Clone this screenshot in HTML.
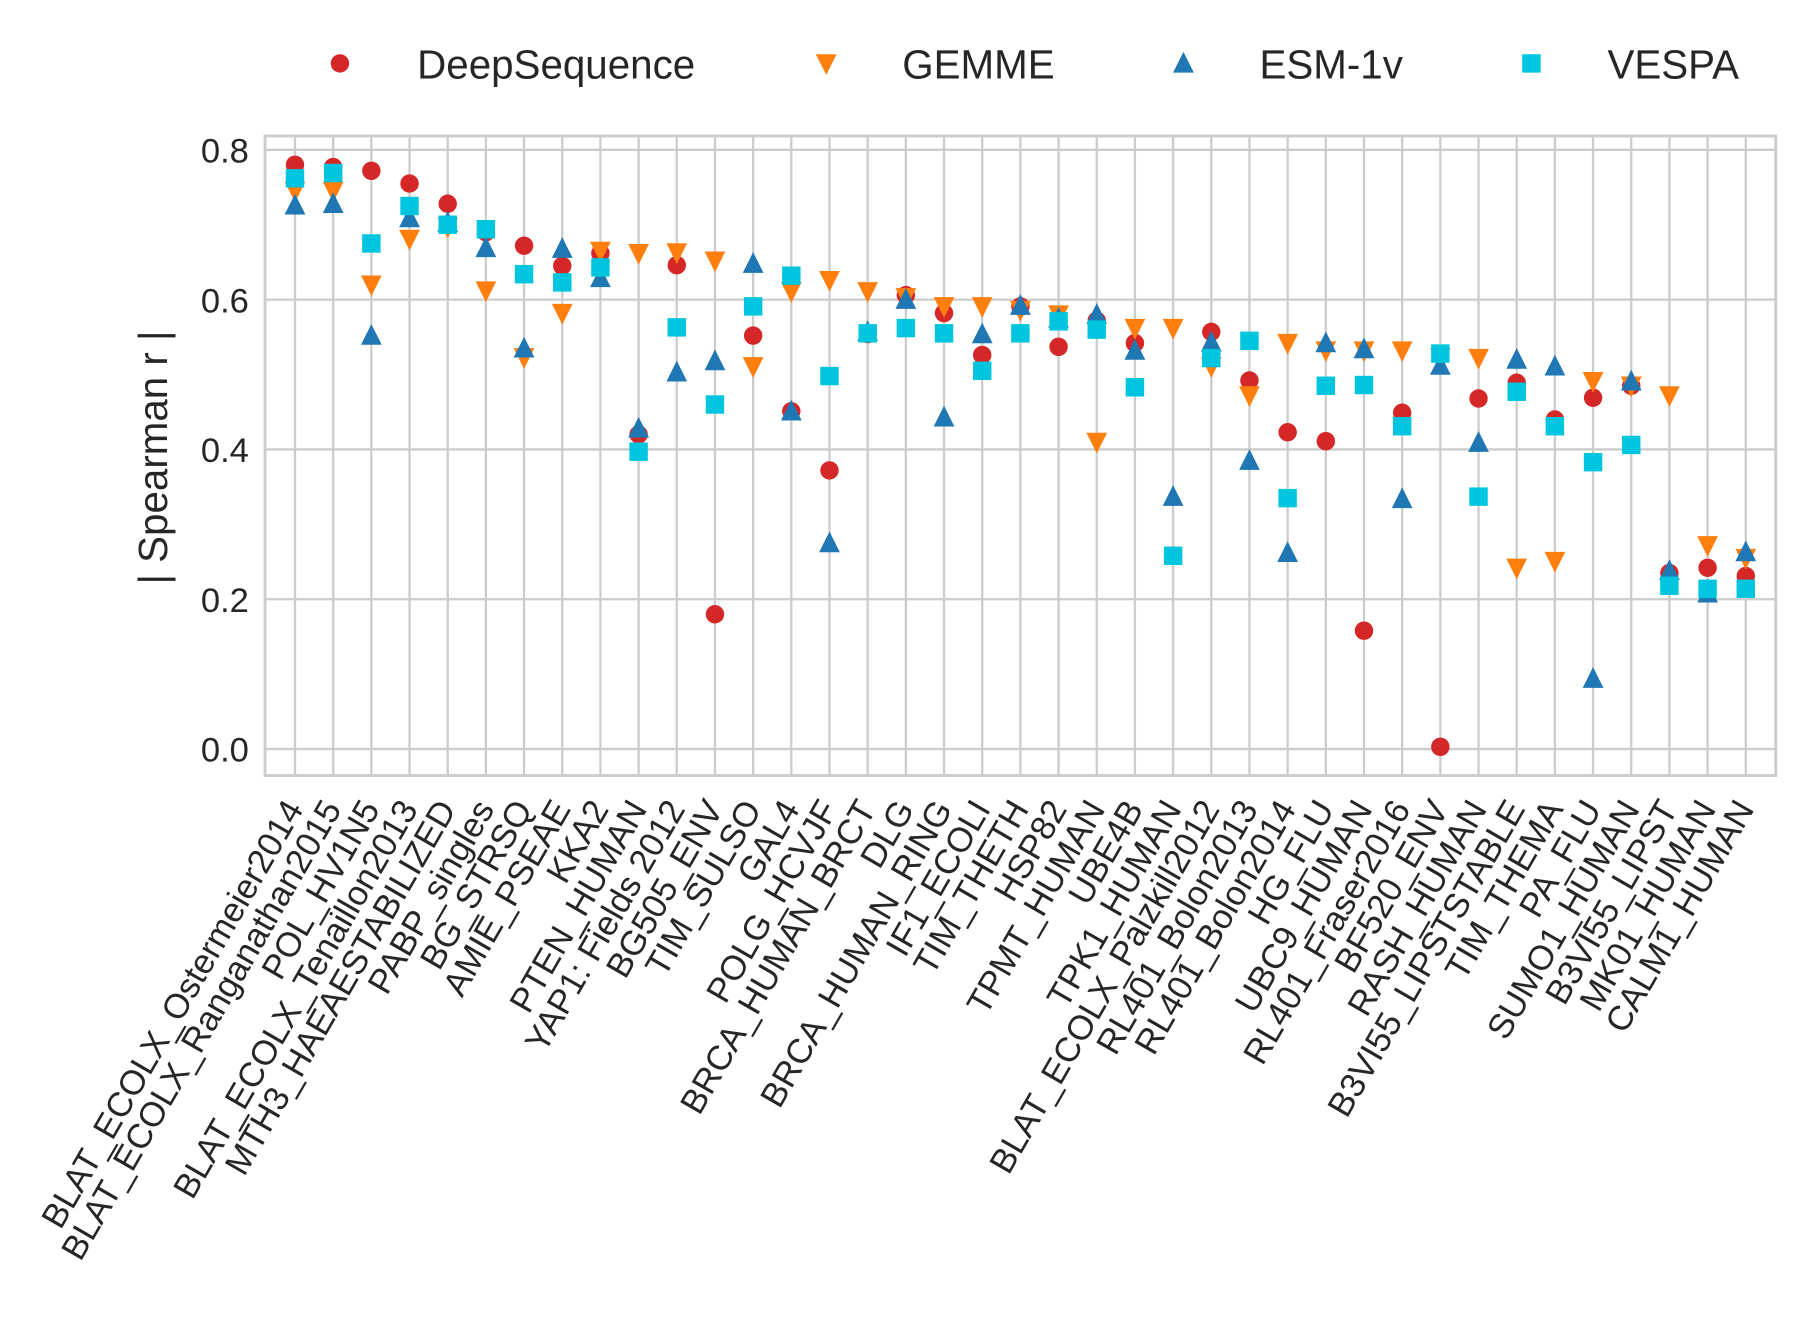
<!DOCTYPE html>
<html><head><meta charset="utf-8">
<style>html,body{margin:0;padding:0;background:#fff}svg{display:block}text{font-family:"Liberation Sans",Arial,sans-serif;fill:#262626}</style>
</head><body>
<svg id="chart" width="1808" height="1331" viewBox="0 0 1569 1155" xmlns="http://www.w3.org/2000/svg">
<g id="grid"></g>
<rect x="230" y="118" width="1311" height="555" fill="none" stroke="#cccccc" stroke-width="2.5"/>
<g id="yticks"></g>
<g id="xticks"></g>
<text transform="translate(145,397) rotate(-90)" text-anchor="middle" font-size="35">| Spearman r |</text>
<g id="marks"></g>
<g id="legend"></g>
</svg>
<script>
const categories = ["BLAT_ECOLX_Ostermeier2014","BLAT_ECOLX_Ranganathan2015","POL_HV1N5","BLAT_ECOLX_Tenaillon2013","MTH3_HAEAESTABILIZED","PABP_singles","BG_STRSQ","AMIE_PSEAE","KKA2","PTEN_HUMAN","YAP1: Fields 2012","BG505_ENV","TIM_SULSO","GAL4","POLG_HCVJF","BRCA_HUMAN_BRCT","DLG","BRCA_HUMAN_RING","IF1_ECOLI","TIM_THETH","HSP82","TPMT_HUMAN","UBE4B","TPK1_HUMAN","BLAT_ECOLX_Palzkill2012","RL401_Bolon2013","RL401_Bolon2014","HG_FLU","UBC9_HUMAN","RL401_Fraser2016","BF520_ENV","RASH_HUMAN","B3VI55_LIPSTSTABLE","TIM_THEMA","PA_FLU","SUMO1_HUMAN","B3VI55_LIPST","MK01_HUMAN","CALM1_HUMAN"];
const deepSequence = [0.78,0.777,0.772,0.755,0.728,0.69,0.672,0.645,0.662,0.42,0.646,0.18,0.552,0.451,0.372,0.554,0.606,0.582,0.526,0.591,0.537,0.572,0.542,0.258,0.557,0.492,0.423,0.411,0.158,0.449,0.003,0.468,0.489,0.44,0.469,0.485,0.235,0.242,0.231];
const gemme = [0.745,0.745,0.62,0.681,0.697,0.612,0.523,0.582,0.665,0.662,0.663,0.652,0.511,0.611,0.626,0.611,0.603,0.591,0.591,0.586,0.58,0.41,0.562,0.562,0.511,0.472,0.542,0.532,0.532,0.532,0.523,0.522,0.242,0.251,0.491,0.485,0.472,0.272,0.255];
const esm1v = [0.726,0.728,0.552,0.709,0.703,0.669,0.535,0.668,0.629,0.428,0.503,0.518,0.648,0.451,0.275,0.557,0.60,0.443,0.554,0.592,0.575,0.58,0.532,0.337,0.543,0.385,0.262,0.542,0.534,0.334,0.512,0.409,0.52,0.511,0.094,0.491,0.238,0.208,0.263];
const vespa = [0.762,0.769,0.675,0.725,0.70,0.694,0.634,0.623,0.643,0.397,0.563,0.46,0.591,0.632,0.498,0.555,0.562,0.555,0.505,0.555,0.571,0.56,0.483,0.258,0.522,0.545,0.335,0.485,0.486,0.431,0.528,0.337,0.477,0.431,0.383,0.406,0.218,0.214,0.214];
const yTicks = [0.0,0.2,0.4,0.6,0.8];
const yTickLabels = ["0.0","0.2","0.4","0.6","0.8"];

const NS="http://www.w3.org/2000/svg";
const xScale = i => 256 + i*(1515-256)/(categories.length-1);
const yScale = v => 650 - v*650;
function mk(tag, attrs, parent){const e=document.createElementNS(NS,tag);for(const k in attrs)e.setAttribute(k,attrs[k]);parent.appendChild(e);return e;}
const grid=document.getElementById('grid'), yt=document.getElementById('yticks'), xt=document.getElementById('xticks'), marks=document.getElementById('marks'), legend=document.getElementById('legend');

yTicks.forEach((v,i)=>{
  const l=mk('line',{x1:230,x2:1541,y1:yScale(v),y2:yScale(v),stroke:'#cccccc','stroke-width':2},grid);
  
  
  const t=mk('text',{x:216,y:yScale(v)+11,'text-anchor':'end','font-size':30},yt);
  t.textContent=yTickLabels[i];
  
  
});
categories.forEach((c,i)=>{
  const x=xScale(i);
  const l=mk('line',{x1:x,x2:x,y1:118,y2:673,stroke:'#cccccc','stroke-width':2},grid);
  
  
  const t=mk('text',{transform:`translate(${x+8},702) rotate(-60)`,'text-anchor':'end','font-size':30},xt);
  t.textContent=c;
  
  
});

const colors={ds:'#d62728',g:'#ff7f0e',e:'#1f77b4',v:'#00c5df'};
function circle(x,y,p,col){return mk('circle',{cx:x,cy:y,r:8,fill:col},p);}
function tdown(x,y,p,col){return mk('polygon',{points:`${x-9},${y-8} ${x+9},${y-8} ${x},${y+10}`,fill:col},p);}
function tup(x,y,p,col){return mk('polygon',{points:`${x-9},${y+8} ${x+9},${y+8} ${x},${y-10}`,fill:col},p);}
function sq(x,y,p,col){return mk('rect',{x:x-8,y:y-8,width:16,height:16,fill:col},p);}

deepSequence.forEach((v,i)=>{const m=circle(xScale(i),yScale(v),marks,colors.ds);
  
  });
gemme.forEach((v,i)=>{const m=tdown(xScale(i),yScale(v),marks,colors.g);
  
  });
esm1v.forEach((v,i)=>{const m=tup(xScale(i),yScale(v),marks,colors.e);
  
  });
vespa.forEach((v,i)=>{const m=sq(xScale(i),yScale(v),marks,colors.v);
  
  });

const legItems=[["DeepSequence",295,362,circle,colors.ds],["GEMME",717,783,tdown,colors.g],["ESM-1v",1027,1093,tup,colors.e],["VESPA",1329,1395,sq,colors.v]];
legItems.forEach(([name,mx,tx,fn,col])=>{
  const m=fn(mx,55,legend,col);
  
  
  const t=mk('text',{x:tx,y:68,'font-size':35},legend);
  t.textContent=name;
  
  
});
</script>
</body></html>
